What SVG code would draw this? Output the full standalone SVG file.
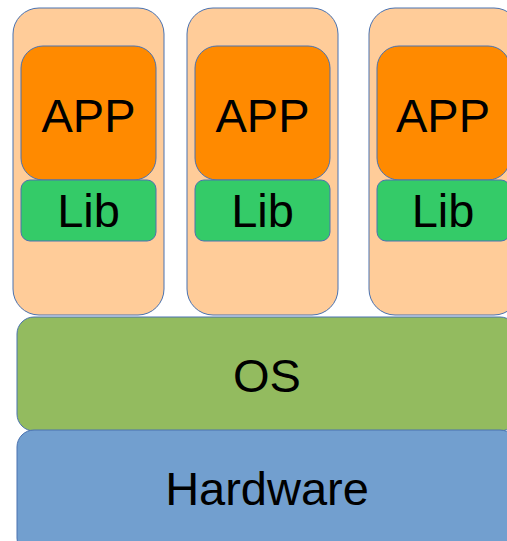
<svg xmlns="http://www.w3.org/2000/svg" width="507" height="541" viewBox="0 0 507 541">
<style>
.b{stroke:#4a72b0;stroke-width:1}
.c{fill:#ffcc99}
.a{fill:#ff8a00}
.l{fill:#34cb68}
.t{font-family:"Liberation Sans",Arial,sans-serif;font-size:47px;fill:#000;text-anchor:middle}
</style>
<rect width="507" height="541" fill="#fff"/>
<g id="container1"><rect class="b c" x="13" y="8" width="151" height="307" rx="26"/></g>
<g id="container2"><rect class="b c" x="187" y="8" width="151" height="307" rx="26"/></g>
<g id="container3"><rect class="b c" x="369" y="8" width="151" height="307" rx="26"/></g>
<g id="app1"><rect class="b a" x="21" y="46" width="135" height="134" rx="22"/><text class="t" x="88.5" y="132">APP</text></g>
<g id="lib1"><rect class="b l" x="21" y="180" width="135" height="61" rx="9"/><text class="t" x="88.5" y="227">Lib</text></g>
<g id="app2"><rect class="b a" x="195" y="46" width="135" height="134" rx="22"/><text class="t" x="262.5" y="132">APP</text></g>
<g id="lib2"><rect class="b l" x="195" y="180" width="135" height="61" rx="9"/><text class="t" x="262.5" y="227">Lib</text></g>
<g id="app3"><rect class="b a" x="377" y="46" width="133" height="134" rx="22"/><text class="t" x="443" y="132">APP</text></g>
<g id="lib3"><rect class="b l" x="377" y="180" width="133" height="61" rx="9"/><text class="t" x="443" y="227">Lib</text></g>
<g id="os"><rect class="b" fill="#93bb5f" x="17" y="317" width="500" height="114" rx="17"/><text class="t" x="267" y="392">OS</text></g>
<g id="hardware"><rect class="b" fill="#729fcf" x="17" y="430" width="500" height="125" rx="17"/><text class="t" x="267" y="505">Hardware</text></g>
<g id="connectors"></g>
</svg>
